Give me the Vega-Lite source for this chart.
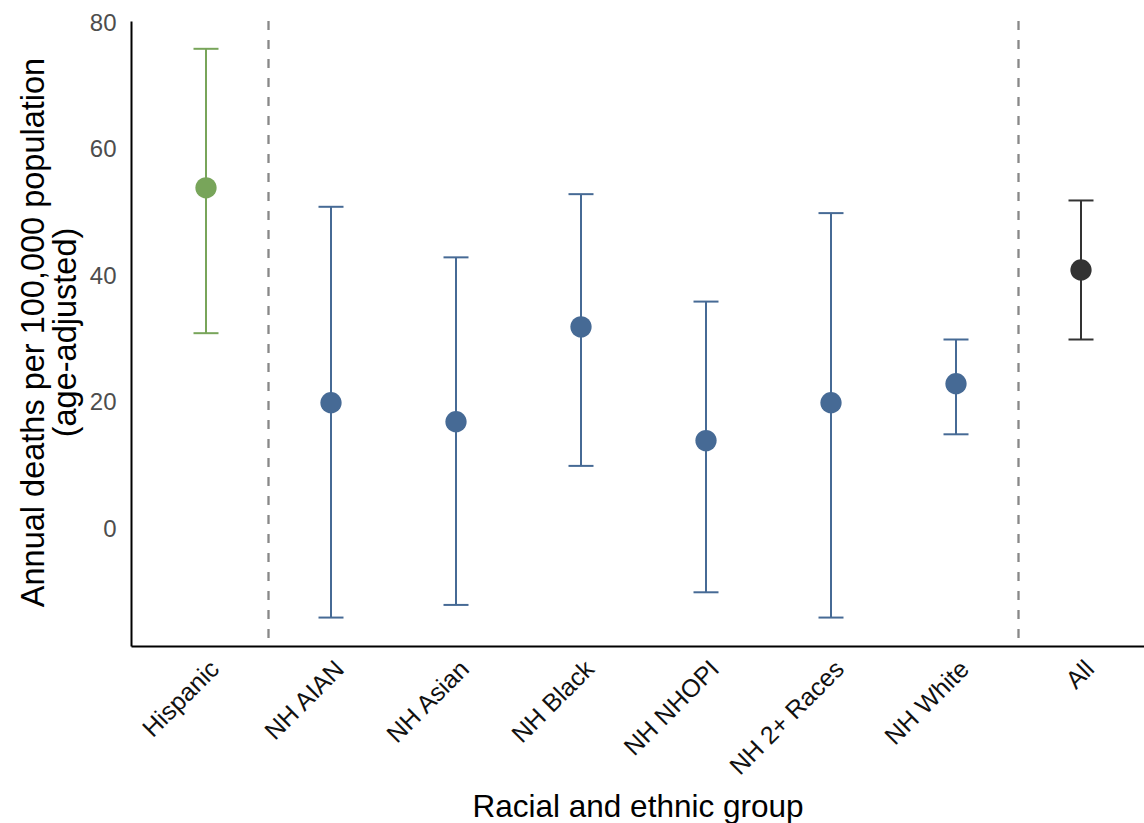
{
  "$schema": "https://vega.github.io/schema/vega-lite/v6.json",
  "width": 1013,
  "height": 625,
  "autosize": {"type": "none"},
  "padding": {"left": 131, "top": 21, "right": 0, "bottom": 177},
  "config": {"view": {"stroke": null}, "font": "Liberation Sans"},
  "data": {
    "values": [
      {"group": "Hispanic", "idx": 1, "kind": "Hispanic", "est": 54, "lo": 31, "hi": 76},
      {"group": "NH AIAN", "idx": 2, "kind": "NH", "est": 20, "lo": -14, "hi": 51},
      {"group": "NH Asian", "idx": 3, "kind": "NH", "est": 17, "lo": -12, "hi": 43},
      {"group": "NH Black", "idx": 4, "kind": "NH", "est": 32, "lo": 10, "hi": 53},
      {"group": "NH NHOPI", "idx": 5, "kind": "NH", "est": 14, "lo": -10, "hi": 36},
      {"group": "NH 2+ Races", "idx": 6, "kind": "NH", "est": 20, "lo": -14, "hi": 50},
      {"group": "NH White", "idx": 7, "kind": "NH", "est": 23, "lo": 15, "hi": 30},
      {"group": "All", "idx": 8, "kind": "All", "est": 41, "lo": 30, "hi": 52}
    ]
  },
  "layer": [
    {
      "data": {"values": [{"sep": 1.5}, {"sep": 7.5}]},
      "mark": {"type": "rule", "color": "#888888", "strokeWidth": 2.3, "strokeDash": [9, 10]},
      "encoding": {
        "x": {"field": "sep", "type": "quantitative", "scale": {"domain": [0.4, 8.504], "nice": false, "zero": false}}
      }
    },
    {
      "mark": {"type": "rule", "strokeWidth": 2},
      "encoding": {
        "x": {"field": "idx", "type": "quantitative"},
        "y": {"field": "lo", "type": "quantitative"},
        "y2": {"field": "hi"},
        "color": {"field": "kind", "type": "nominal", "scale": {"domain": ["Hispanic", "NH", "All"], "range": ["#78a55a", "#466a95", "#333333"]}, "legend": null}
      }
    },
    {
      "mark": {"type": "tick", "orient": "horizontal", "size": 25, "thickness": 2, "opacity": 1},
      "encoding": {
        "x": {"field": "idx", "type": "quantitative"},
        "y": {"field": "lo", "type": "quantitative"},
        "color": {"field": "kind", "type": "nominal", "legend": null}
      }
    },
    {
      "mark": {"type": "tick", "orient": "horizontal", "size": 25, "thickness": 2, "opacity": 1},
      "encoding": {
        "x": {"field": "idx", "type": "quantitative"},
        "y": {"field": "hi", "type": "quantitative"},
        "color": {"field": "kind", "type": "nominal", "legend": null}
      }
    },
    {
      "mark": {"type": "point", "filled": true, "opacity": 1, "size": 452},
      "encoding": {
        "x": {
          "field": "idx", "type": "quantitative",
          "axis": {
            "values": [1, 2, 3, 4, 5, 6, 7, 8],
            "labelExpr": "['Hispanic','NH AIAN','NH Asian','NH Black','NH NHOPI','NH 2+ Races','NH White','All'][datum.value - 1]",
            "grid": false, "ticks": false, "tickSize": 0,
            "domainColor": "#000000", "domainWidth": 2,
            "labelAngle": -45, "labelAlign": "right", "labelBaseline": "top",
            "labelPadding": 10, "labelFontSize": 25, "labelColor": "#111111",
            "labelOverlap": false, "labelBound": false, "labelFlush": false,
            "title": "Racial and ethnic group", "titleFontSize": 31.5, "titleFontWeight": "normal",
            "titleColor": "#000000", "titleBaseline": "alphabetic", "titleY": 170
          }
        },
        "y": {
          "field": "est", "type": "quantitative",
          "scale": {"domain": [-18.5, 80.4], "nice": false, "zero": false},
          "axis": {
            "values": [0, 20, 40, 60, 80],
            "grid": false, "ticks": false, "tickSize": 0,
            "domainColor": "#000000", "domainWidth": 2,
            "labelPadding": 15, "labelFontSize": 24, "labelColor": "#4d4d4d",
            "title": ["Annual deaths per 100,000 population", "(age-adjusted)"],
            "titleFontSize": 32.5, "titleFontWeight": "normal", "titleColor": "#000000",
            "titleLineHeight": 32, "titleBaseline": "alphabetic", "titleAngle": -90,
            "titleX": -88, "titleY": 311, "titleAlign": "center"
          }
        },
        "color": {"field": "kind", "type": "nominal", "legend": null}
      }
    }
  ]
}
